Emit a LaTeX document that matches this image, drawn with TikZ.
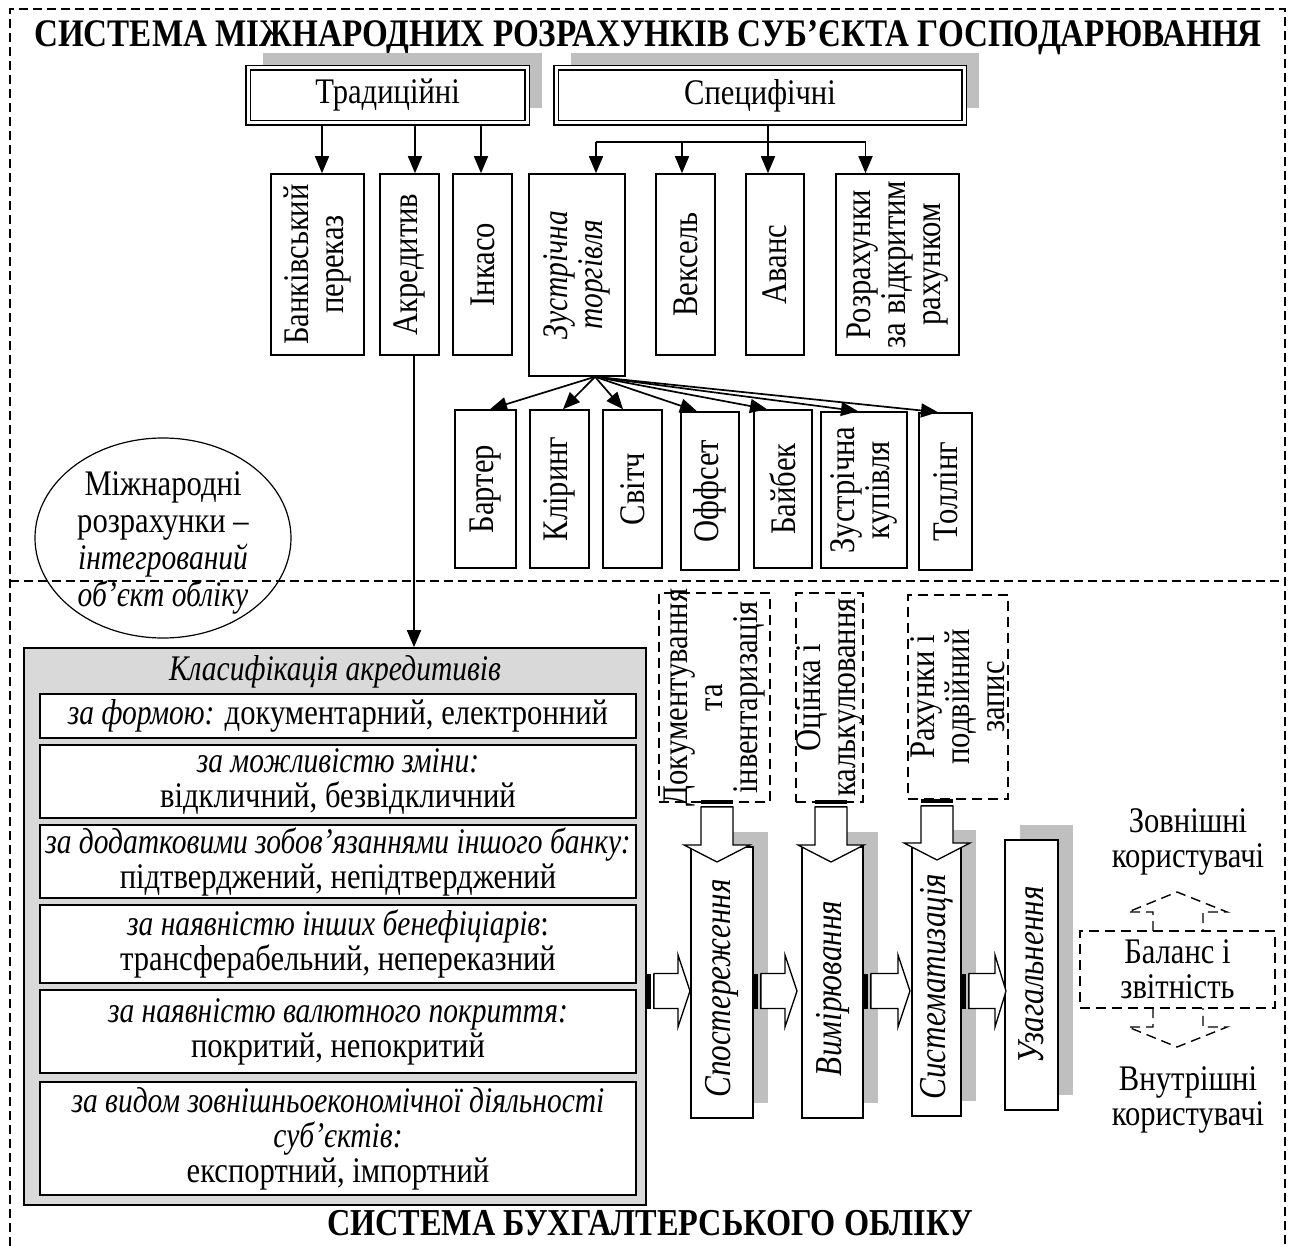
\documentclass[tikz,border=0pt]{standalone}
\usepackage{fontspec}
\setmainfont{Liberation Serif}[FakeStretch=0.85, ItalicFeatures={FakeStretch=0.82}]
\usetikzlibrary{fit,calc,arrows.meta,shapes.geometric}
\newcommand{\fs}{\fontsize{36}{35}\selectfont}
\newcommand{\fb}{\fontsize{39}{38}\selectfont}
\newcommand{\fp}{\fontsize{38}{38}\selectfont}
\newcommand{\mkbox}[6][bx]{\node[#1,fit={(#3,#4)(#5,#6)}] (#2) {};}
\newcommand{\varrow}[5]{%
 \fill (#1,#3) rectangle (#2,#3+4);
 \fill (#1,#3+5.5) rectangle (#2,#3+7);
 \draw[blk] (#1,#3+7) -- (#1,#4) -- (#1-17,#4) -- ({(#1+#2)/2},#5) -- (#2+17,#4) -- (#2,#4) -- (#2,#3+7) -- cycle;}
\newcommand{\harrow}[4]{%
 \fill (#1,#4-17.5) rectangle (#1+4,#4+17.5);
 \fill (#1+5.5,#4-17.5) rectangle (#1+7,#4+17.5);
 \draw[blk] (#1+7,#4-17.5) -- (#2,#4-17.5) -- (#2,#4-36) -- (#3,#4) -- (#2,#4+36) -- (#2,#4+17.5) -- (#1+7,#4+17.5) -- cycle;}
\definecolor{shgray}{gray}{0.75}
\definecolor{clgray}{gray}{0.85}
\tikzset{
 bx/.style={draw, line width=1.6pt, fill=white, inner sep=0pt},
 dbx/.style={draw, line width=1.5pt, dash pattern=on 10pt off 6pt, inner sep=0pt},
 dblbx/.style={draw, line width=1.5pt, double=white, double distance=3pt, fill=white, inner sep=0pt},
 shd/.style={fill=shgray, draw=none, inner sep=0pt},
 clsbx/.style={draw, line width=1.6pt, fill=clgray, inner sep=0pt},
 frame/.style={line width=1.5pt, dash pattern=on 9pt off 5pt},
 rot/.style={rotate=90, align=center, inner sep=0pt, font=\fs},
 txt/.style={align=center, inner sep=0pt, font=\fs},
 arr/.style={-{Triangle[length=17pt,width=14pt]}, line width=1.7pt},
 ln/.style={line width=1.7pt},
 blk/.style={draw, line width=1.3pt, fill=white, line join=miter},
 dblk/.style={line width=1.4pt, dash pattern=on 10pt off 6pt},
}
\begin{document}
\begin{tikzpicture}[x=1pt,y=-1pt]
\useasboundingbox (0,0) rectangle (1290,1246);
% frames
\draw[frame] (10,1246) -- (10,9) -- (1285,9) -- (1285,1246);
\draw[frame] (10,581) -- (1285,581);
\node[font=\fb\bfseries, inner sep=0pt] (t1) at (648,38) {СИСТЕМА МІЖНАРОДНИХ РОЗРАХУНКІВ СУБ’ЄКТА ГОСПОДАРЮВАННЯ};
% top double boxes
\mkbox[shd]{trads}{263}{53}{542}{108}
\mkbox[shd]{specs}{571}{53}{979}{108}
\mkbox[dblbx]{trad}{248}{68}{527}{123}
\mkbox[dblbx]{spec}{556}{68}{964}{123}
\node[txt] (tradt) at (trad.center) {Традиційні};
\node[txt] (spect) at (spec.center) {Специфічні};
% first row
\mkbox{bank}{271}{174}{364}{355}
\mkbox{akr}{380}{174}{439}{355}
\mkbox{ink}{453}{174}{512}{355}
\mkbox{zt}{529}{174}{625}{376}
\mkbox{veks}{656}{174}{715}{355}
\mkbox{avans}{746}{174}{804}{355}
\mkbox{rozr}{836}{174}{959}{355}
\node[rot] (bankt) at (bank.center) {Банківський\\переказ};
\node[rot] (akrt) at (akr.center) {Акредитив};
\node[rot] (inkt) at (ink.center) {Інкасо};
\node[rot, font=\fs\itshape] (ztt) at (zt.center) {Зустрічна\\торгівля};
\node[rot] (vekst) at (veks.center) {Вексель};
\node[rot] (avanst) at (avans.center) {Аванс};
\node[rot] (rozrt) at (rozr.center) {Розрахунки\\за відкритим\\рахунком};
% arrows from Traditional
\coordinate (bankin) at ($(bank.north)+(4.5,0)$);
\coordinate (akrin) at ($(akr.north)+(5.5,0)$);
\coordinate (inkin) at ($(ink.north)+(-1.5,0)$);
\draw[arr] (trad.south -| bankin) -- (bankin);
\draw[arr] (trad.south -| akrin) -- (akrin);
\draw[arr] (trad.south -| inkin) -- (inkin);
% arrows from Specific
\coordinate (zin) at ($(zt.north)+(19,0)$);
\coordinate (vin) at ($(veks.north)+(-3.5,0)$);
\coordinate (ain) at ($(avans.north)+(-7,0)$);
\coordinate (rin) at ($(rozr.north)+(-32,0)$);
\coordinate (sj) at (ain |- 0,142);
\draw[ln] (spec.south -| ain) -- (sj);
\draw[ln] (zin |- sj) -- (rin |- sj);
\draw[arr] (zin |- sj) -- (zin);
\draw[arr] (vin |- sj) -- (vin);
\draw[arr] (ain |- sj) -- (ain);
\draw[arr] (rin |- sj) -- (rin);
% second row
\mkbox{bart}{455}{410}{516}{568}
\mkbox{klir}{530}{410}{589}{568}
\mkbox{svit}{603}{410}{662}{568}
\mkbox{offs}{681}{412}{739}{570}
\mkbox{baib}{754}{410}{812}{568}
\mkbox{zkup}{821}{412}{907}{568}
\mkbox{toll}{919}{413}{972}{570}
\node[rot] (bartt) at (bart.center) {Бартер};
\node[rot] (klirt) at (klir.center) {Кліринг};
\node[rot] (svitt) at (svit.center) {Світч};
\node[rot] (offst) at (offs.center) {Оффсет};
\node[rot] (baibt) at (baib.center) {Байбек};
\node[rot] (zkupt) at (zkup.center) {Зустрічна\\купівля};
\node[rot] (tollt) at (toll.center) {Толлінг};
\coordinate (zsrc) at ($(zt.south)+(18,0)$);
\draw[arr] (zsrc) -- ($(bart.north)+(4.5,0)$);
\draw[arr] (zsrc) -- ($(klir.north)+(3.5,0)$);
\draw[arr] (zsrc) -- ($(svit.north)+(-9.5,0)$);
\draw[arr] (zsrc) -- ($(offs.north)+(-13,0)$);
\draw[arr] (zsrc) -- ($(baib.north)+(-16,0)$);
\draw[arr] (zsrc) -- ($(zkup.north)+(-6,0)$);
\draw[arr] (zsrc) -- ($(toll.north)+(-7.5,0)$);
% ellipse
\node[draw, ellipse, line width=1.2pt, minimum width=256pt, minimum height=200pt, inner sep=0pt] (ell) at (163,538) {};
\node[txt, font=\fontsize{36}{37}\selectfont] (ellt) at (163,543) {Міжнародні\\розрахунки –\\\textit{інтегрований}\\\textit{об’єкт обліку}};
% classification
\mkbox[clsbx]{klas}{24}{648}{646}{1205}
\node[txt, font=\fs\itshape] (klast) at (335,672) {Класифікація акредитивів};
\mkbox{r1}{40}{694}{636}{738}
\mkbox{r2}{40}{745}{636}{818}
\mkbox{r3}{40}{825}{636}{898}
\mkbox{r4}{40}{905}{636}{983}
\mkbox{r5}{40}{990}{636}{1073}
\mkbox{r6}{40}{1082}{636}{1195}
\node[txt] (r1t) at (r1.center) {\textit{за формою:} документарний, електронний};
\node[txt] (r2t) at (r2.center) {\textit{за можливістю зміни:}\\відкличний, безвідкличний};
\node[txt] (r3t) at (r3.center) {\textit{за додатковими зобов’язаннями іншого банку:}\\підтверджений, непідтверджений};
\node[txt] (r4t) at (r4.center) {\textit{за наявністю інших бенефіціарів}:\\трансферабельний, непереказний};
\node[txt] (r5t) at (r5.center) {\textit{за наявністю валютного покриття:}\\покритий, непокритий};
\node[txt] (r6t) at (r6.center) {\textit{за видом зовнішньоекономічної діяльності}\\\textit{суб’єктів:}\\експортний, імпортний};
\coordinate (akrout) at ($(akr.south)+(4.5,0)$);
\draw[arr] (akrout) -- (akrout |- klas.north);
\node[font=\fontsize{38}{38}\selectfont\bfseries, inner sep=0pt] (t2) at (650,1223) {СИСТЕМА БУХГАЛТЕРСЬКОГО ОБЛІКУ};
% dashed method boxes
\mkbox[dbx]{doc}{659}{593}{770}{802}
\mkbox[dbx]{ots}{796}{593}{863}{802}
\mkbox[dbx]{rah}{908}{595}{1008}{799}
\node[rot] (doct) at (doc.center) {Документування\\та\\інвентаризація};
\node[rot] (otst) at (ots.center) {Оцінка і\\калькулювання};
\node[rot] (raht) at (rah.center) {Рахунки і\\подвійний\\запис};
% process boxes
\mkbox[shd]{sps}{706}{832}{768}{1103}
\mkbox[shd]{vms}{817}{832}{878}{1103}
\mkbox[shd]{sss}{927}{830}{976}{1101}
\mkbox[shd]{uzs}{1020}{825}{1073}{1095}
\mkbox{sp}{691}{847}{753}{1118}
\mkbox{vm}{802}{847}{863}{1118}
\mkbox{ss}{912}{845}{961}{1116}
\mkbox{uz}{1005}{840}{1058}{1110}
\node[rot, font=\fp\itshape] (spt) at ($(sp.center)+(0,6)$) {Спостереження};
\node[rot, font=\fp\itshape] (vmt) at ($(vm.center)+(0,6)$) {Вимірювання};
\node[rot, font=\fp\itshape] (sst) at ($(ss.center)+(0,6)$) {Систематизація};
\node[rot, font=\fp\itshape] (uzt) at (uz.center) {Узагальнення};
% block arrows
\varrow{701}{733}{800}{845}{862}
\varrow{815}{847}{800}{845}{862}
\varrow{921}{953}{799}{843}{860}
\harrow{647}{678}{690}{991}
\harrow{754}{785}{797}{991}
\harrow{864}{898}{910}{991}
\harrow{962}{995}{1006}{991}
% right side
\node[txt] (zovn) at (1188,842) {Зовнішні\\користувачі};
\mkbox[dbx]{bal}{1080}{931}{1275}{1008}
\node[txt] (balt) at (bal.center) {Баланс і\\звітність};
\draw[dblk] (1153,931) -- (1153,912) -- (1128,912) -- (1177,892) -- (1227,912) -- (1203,912) -- (1203,931);
\draw[dblk] (1153,1008) -- (1153,1027) -- (1128,1027) -- (1177,1047) -- (1227,1027) -- (1203,1027) -- (1203,1008);
\node[txt] (vnutr) at (1188,1100) {Внутрішні\\користувачі};
\end{tikzpicture}
\end{document}
